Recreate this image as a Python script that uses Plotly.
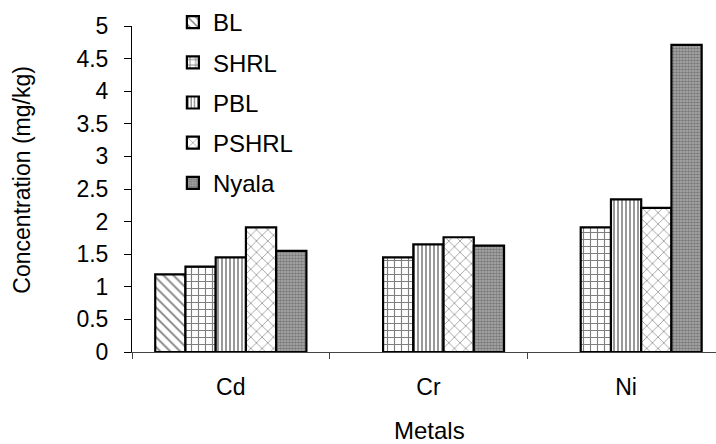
import plotly.graph_objects as go

metals = ["Cd", "Cr", "Ni"]
series_names = ["BL", "SHRL", "PBL", "PSHRL", "Nyala"]
bl = [1.19, None, None]
shrl = [1.31, 1.45, 1.91]
pbl = [1.45, 1.65, 2.34]
pshrl = [1.91, 1.76, 2.21]
nyala = [1.55, 1.63, 4.71]
y_ticks = [0, 0.5, 1, 1.5, 2, 2.5, 3, 3.5, 4, 4.5, 5]

values = [bl, shrl, pbl, pshrl, nyala]
patterns = [
    dict(shape="\\", fgcolor="black", bgcolor="white", size=7, solidity=0.25),
    dict(shape="+", fgcolor="black", bgcolor="white", size=7, solidity=0.3),
    dict(shape="|", fgcolor="black", bgcolor="white", size=4, solidity=0.4),
    dict(shape="x", fgcolor="#333333", bgcolor="white", size=8, solidity=0.2),
    dict(shape=".", fgcolor="#444444", bgcolor="#b0b0b0", size=3, solidity=0.6),
]

FONT = "Liberation Sans, Arial, sans-serif"

fig = go.Figure()
for name, vals, pat in zip(series_names, values, patterns):
    fig.add_trace(go.Bar(
        name=name, x=metals, y=vals,
        marker=dict(color="white", pattern=pat,
                    line=dict(color="black", width=2.2)),
        legendgroup=name,
    ))

fig.update_layout(
    width=716, height=444,
    margin=dict(l=132, r=0, t=21, b=92),
    paper_bgcolor="white", plot_bgcolor="white",
    barmode="group", bargap=0.235, bargroupgap=0,
    font=dict(family=FONT, size=22, color="black"),
    showlegend=True,
    legend=dict(x=0.07, y=1.08, xanchor="left", yanchor="top",
                bgcolor="rgba(0,0,0,0)", font=dict(size=24),
                tracegroupgap=6, itemwidth=30),
    xaxis=dict(range=[-0.5, 2.455], showline=True, linecolor="#444",
               linewidth=1, ticks="outside", ticklen=6, tickcolor="#444",
               tickson="boundaries", showgrid=False, ticklabelstandoff=14,
               tickfont=dict(size=23)),
    yaxis=dict(range=[0, 5], tickvals=y_ticks, showline=True,
               linecolor="black", linewidth=1, ticks="outside", ticklen=7,
               tickcolor="black", showgrid=False, zeroline=False,
               ticklabelstandoff=11, tickfont=dict(size=23)),
    annotations=[
        dict(text="Concentration (mg/kg)", xref="paper", yref="paper",
             x=(22 - 132) / 584, y=(352 - 177) / 331, textangle=-90,
             showarrow=False, font=dict(size=23), xanchor="center",
             yanchor="middle"),
        dict(text="Metals", xref="paper", yref="paper",
             x=(429 - 132) / 584, y=(352 - 432) / 331, showarrow=False,
             font=dict(size=24), xanchor="center", yanchor="middle"),
    ],
)

fig.write_html("out.html")
